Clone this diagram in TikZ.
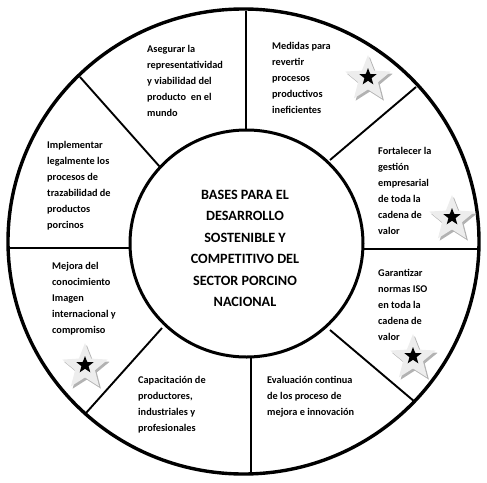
\documentclass[tikz,border=0pt]{standalone}
\usepackage{fontspec}
\setmainfont{Carlito}
\usetikzlibrary{shapes.geometric}
\begin{document}
\begin{tikzpicture}[x=1pt,y=-1pt,
  ring/.style={line width=3.4pt},
  core/.style={line width=3pt},
  divider/.style={line width=1.9pt},
  txt/.style={anchor=north west,inner sep=0pt,align=left,font=\fontsize{10.3}{16}\selectfont\bfseries},
  ctr/.style={anchor=north,inner sep=0pt,align=center,font=\fontsize{14.2}{21.4}\selectfont\bfseries},
  starface/.style={star,star points=5,star point ratio=2.3,inner sep=0pt,minimum size=48pt,draw=none,fill=black!7},
  starshade/.style={star,star points=5,star point ratio=2.3,inner sep=0pt,minimum size=48pt,draw=none,fill=black!30},
  starcore/.style={star,star points=5,star point ratio=2.4,inner sep=0pt,minimum size=18pt,draw=none,fill=black}]
\useasboundingbox (0,0) rectangle (487,482);
% rings
\draw[ring] (243.5,241.5) ellipse [x radius=235.5pt, y radius=232.5pt];
\draw[core] (246.5,243.5) ellipse [x radius=116.5pt, y radius=113.5pt];
% dividers
\coordinate (d1a) at (246,11);  \coordinate (d1b) at (246,130);
\coordinate (d2a) at (330,160); \coordinate (d2b) at (416,87);
\coordinate (d3a) at (363,249); \coordinate (d3b) at (479,249);
\coordinate (d4a) at (330,330); \coordinate (d4b) at (415,402);
\coordinate (d5a) at (251,357); \coordinate (d5b) at (251,474);
\coordinate (d6a) at (162,328); \coordinate (d6b) at (86,413);
\coordinate (d7a) at (8,248);   \coordinate (d7b) at (130,248);
\coordinate (d8a) at (80,77);   \coordinate (d8b) at (160,167);
\draw[divider] (d1a) -- (d1b);
\draw[divider] (d2a) -- (d2b);
\draw[divider] (d3a) -- (d3b);
\draw[divider] (d4a) -- (d4b);
\draw[divider] (d5a) -- (d5b);
\draw[divider] (d6a) -- (d6b);
\draw[divider] (d7a) -- (d7b);
\draw[divider] (d8a) -- (d8b);
% center text
\node[ctr] (center) at (245,190) {BASES PARA EL\\DESARROLLO\\SOSTENIBLE Y\\COMPETITIVO DEL\\SECTOR PORCINO\\NACIONAL};
% sector texts
\node[txt] (s1) at (147,45) {Asegurar la\\representatividad\\y viabilidad del\\producto\ \ en el\\mundo};
\node[txt] (s2) at (272,42) {Medidas para\\revertir\\procesos\\productivos\\ineficientes};
\node[txt] (s3) at (378,147) {Fortalecer la\\gestión\\empresarial\\de toda la\\cadena de\\valor};
\node[txt] (s4) at (378,269) {Garantizar\\normas ISO\\en toda la\\cadena de\\valor};
\node[txt] (s5) at (267,376) {Evaluación continua\\de los proceso de\\mejora e innovación};
\node[txt] (s6) at (138,376) {Capacitación de\\productores,\\industriales y\\profesionales};
\node[txt] (s7) at (52,262) {Mejora del\\conocimiento\\Imagen\\internacional y\\compromiso};
\node[txt] (s8) at (47,141) {Implementar\\legalmente los\\procesos de\\trazabilidad de\\productos\\porcinos};
% stars
\foreach \n/\sx/\sy in {a/368/79, b/452/219, c/413/358, d/85/367}{
  \node[starshade] (shade\n) at (\sx+1.8,\sy+2.2) {};
  \node[starface] (face\n) at (\sx,\sy) {};
  \node[starcore] (core\n) at (\sx,\sy-2) {};
}
\end{tikzpicture}
\end{document}
